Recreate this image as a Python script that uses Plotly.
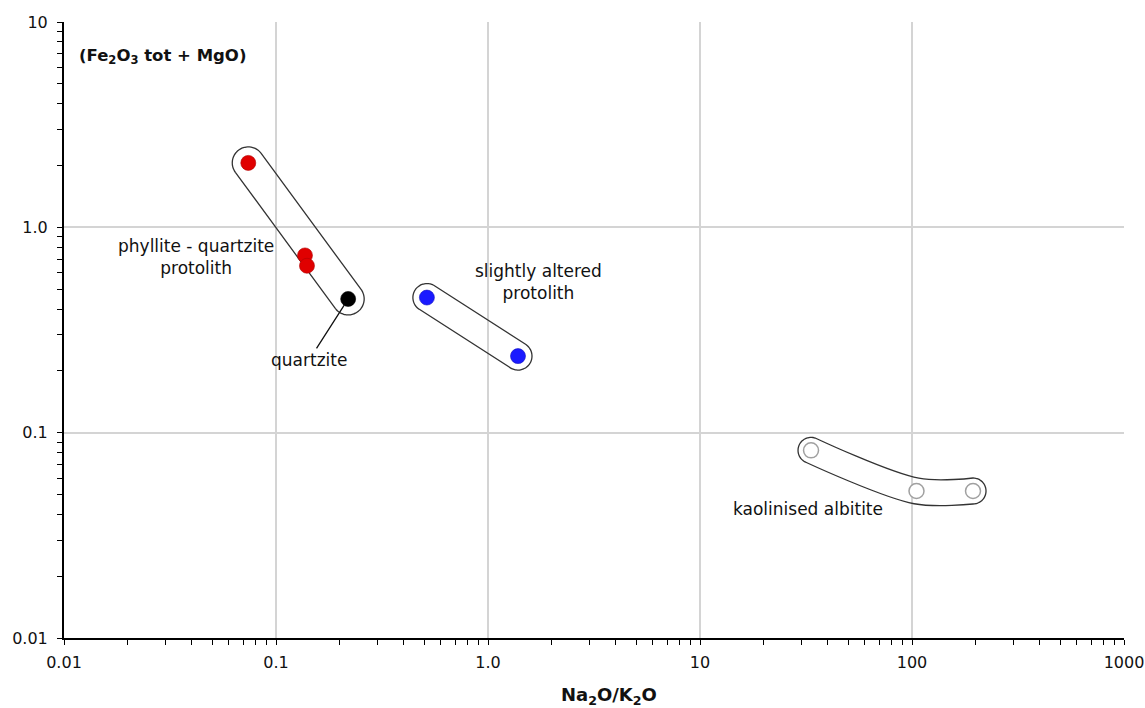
import numpy as np
import plotly.graph_objects as go

# ---- data ----
phyllite_x = [0.074, 0.137, 0.140]
phyllite_y = [2.06, 0.73, 0.65]
quartzite_x = [0.219]
quartzite_y = [0.448]
altered_x = [0.515, 1.385]
altered_y = [0.455, 0.236]
albitite_x = [33.4, 105.0, 194.0]
albitite_y = [0.082, 0.052, 0.052]

x_tickvals = [0.01, 0.1, 1, 10, 100, 1000]
x_ticktext = ["0.01", "0.1", "1.0", "10", "100", "1000"]
y_tickvals = [0.01, 0.1, 1, 10]
y_ticktext = ["0.01", "0.1", "1.0", "10"]

# ---- layout geometry ----
W, H = 1145, 708
ML, MR, MT, MB = 64, 21, 22, 70
XR = [-2, 3]
YR = [-2, 1]
SX = (W - ML - MR) / (XR[1] - XR[0])
SY = (H - MT - MB) / (YR[1] - YR[0])

FONT = "DejaVu Sans"


def envelope(xs, ys, r, ncap=30):
    """Rounded outline (in data coords) around a polyline of data points."""
    P = np.array([[(np.log10(x) - XR[0]) * SX, (np.log10(y) - YR[0]) * SY]
                  for x, y in zip(xs, ys)])
    n = len(P)
    segs = P[1:] - P[:-1]
    segs = segs / np.linalg.norm(segs, axis=1)[:, None]
    seg_norm = np.stack([-segs[:, 1], segs[:, 0]], axis=1)
    normals = []
    for i in range(n):
        if i == 0:
            v = seg_norm[0]
        elif i == n - 1:
            v = seg_norm[-1]
        else:
            v = seg_norm[i - 1] + seg_norm[i]
        normals.append(v / np.linalg.norm(v))
    normals = np.array(normals)
    pts = []
    for i in range(n):
        pts.append(P[i] + r * normals[i])
    a_end = np.arctan2(normals[-1][1], normals[-1][0])
    for t in np.linspace(a_end, a_end - np.pi, ncap):
        pts.append(P[-1] + r * np.array([np.cos(t), np.sin(t)]))
    for i in range(n - 1, -1, -1):
        pts.append(P[i] - r * normals[i])
    a_start = np.arctan2(-normals[0][1], -normals[0][0])
    for t in np.linspace(a_start, a_start - np.pi, ncap):
        pts.append(P[0] + r * np.array([np.cos(t), np.sin(t)]))
    pts.append(pts[0])
    pts = np.array(pts)
    ex = 10 ** (pts[:, 0] / SX + XR[0])
    ey = 10 ** (pts[:, 1] / SY + YR[0])
    return ex, ey


fig = go.Figure()

env_line = dict(color="#333333", width=1.3)
groups = [
    ([phyllite_x[0], quartzite_x[0]], [phyllite_y[0], quartzite_y[0]], 16),
    (altered_x, altered_y, 14),
    (albitite_x, albitite_y, 13),
]
for gx, gy, rr in groups:
    ex, ey = envelope(gx, gy, rr)
    fig.add_trace(go.Scatter(x=ex, y=ey, mode="lines", line=dict(shape="spline", **env_line),
                             hoverinfo="skip", showlegend=False))

fig.add_trace(go.Scatter(x=phyllite_x, y=phyllite_y, mode="markers", showlegend=False,
                         marker=dict(size=15, color="#e00000", line=dict(color="#b00000", width=0.6))))
fig.add_trace(go.Scatter(x=quartzite_x, y=quartzite_y, mode="markers", showlegend=False,
                         marker=dict(size=15, color="#000000", line=dict(color="#000000", width=0.6))))
fig.add_trace(go.Scatter(x=altered_x, y=altered_y, mode="markers", showlegend=False,
                         marker=dict(size=15, color="#1a1aff", line=dict(color="#1010c0", width=0.6))))
fig.add_trace(go.Scatter(x=albitite_x, y=albitite_y, mode="markers", showlegend=False,
                         marker=dict(size=15, color="white", line=dict(color="#a0a0a0", width=1.5))))


def to_data(px, py):
    return 10 ** ((px - ML) / SX + XR[0]), 10 ** (YR[1] - (py - MT) / SY)


annos = []
tf = dict(family=FONT, size=17, color="#111111")
lx, ly = to_data(196, 257)
annos.append(dict(x=np.log10(lx), y=np.log10(ly), text="phyllite - quartzite<br>protolith",
                  showarrow=False, font=tf, align="center"))
lx, ly = to_data(538, 282)
annos.append(dict(x=np.log10(lx), y=np.log10(ly), text="slightly altered<br>protolith",
                  showarrow=False, font=tf, align="center"))
lx, ly = to_data(808, 509)
annos.append(dict(x=np.log10(lx), y=np.log10(ly), text="kaolinised albitite",
                  showarrow=False, font=tf, align="center"))
annos.append(dict(x=np.log10(quartzite_x[0]), y=np.log10(quartzite_y[0]), text="quartzite",
                  showarrow=True, arrowhead=0, arrowwidth=1.3, arrowcolor="#111111",
                  ax=-39, ay=61, standoff=7, font=tf))
annos.append(dict(xref="paper", yref="paper", x=(77 - ML) / (W - ML - MR),
                  y=1 - (56 - MT) / (H - MT - MB), xanchor="left", yanchor="middle",
                  text="<b>(Fe<sub>2</sub>O<sub>3</sub> tot + MgO)</b>", showarrow=False,
                  font=dict(family=FONT, size=16.5, color="#111111")))
annos.append(dict(xref="paper", yref="paper", x=(609 - ML) / (W - ML - MR),
                  y=-(696 - (H - MB)) / (H - MT - MB), xanchor="center", yanchor="middle",
                  text="<b>Na<sub>2</sub>O/K<sub>2</sub>O</b>", showarrow=False,
                  font=dict(family=FONT, size=18, color="#111111")))

minor_x = [m * 10.0 ** e for e in range(-2, 3) for m in range(2, 10)]
minor_y = [m * 10.0 ** e for e in range(-2, 1) for m in range(2, 10)]

axis_common = dict(showline=True, linecolor="black", linewidth=2, ticks="outside", ticklen=5,
                   tickcolor="black", tickwidth=1.2, showgrid=True, gridcolor="#d4d4d4", gridwidth=1.5,
                   zeroline=False, automargin=False,
                   tickfont=dict(family=FONT, size=16, color="#111111"))

fig.update_layout(
    width=W, height=H,
    margin=dict(l=ML, r=MR, t=MT, b=MB),
    paper_bgcolor="white", plot_bgcolor="white",
    annotations=annos,
    xaxis=dict(type="log", range=XR, tickmode="array", tickvals=x_tickvals, ticktext=x_ticktext,
               minor=dict(tickmode="array", tickvals=minor_x, ticks="outside", ticklen=5,
                          tickcolor="black", tickwidth=1, showgrid=False),
               ticklabelstandoff=4,
               **axis_common),
    yaxis=dict(type="log", range=YR, tickmode="array", tickvals=y_tickvals, ticktext=y_ticktext,
               minor=dict(tickmode="array", tickvals=minor_y, ticks="outside", ticklen=5,
                          tickcolor="black", tickwidth=1, showgrid=False),
               ticklabelstandoff=6,
               **axis_common),
)

fig.write_html("out.html")
